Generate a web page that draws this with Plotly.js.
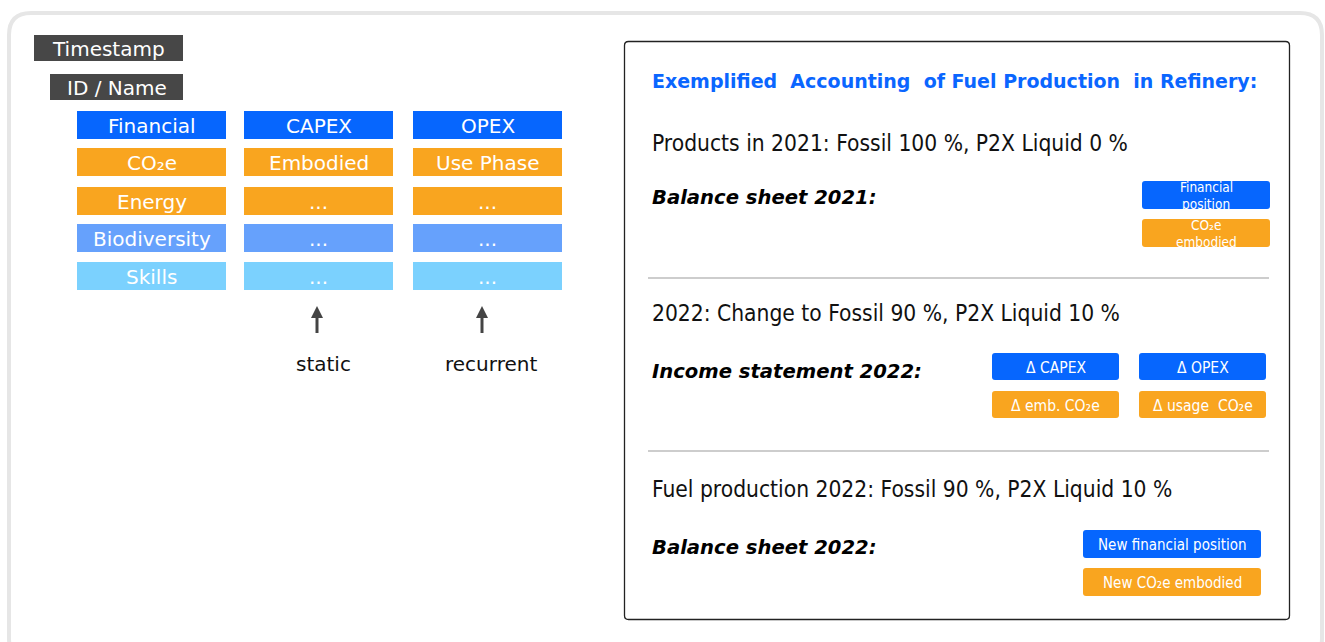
<!DOCTYPE html>
<html><head><meta charset="utf-8">
<script src="https://cdn.plot.ly/plotly-3.0.1.min.js"></script>
<style>html,body{margin:0;padding:0;background:#fff;overflow:hidden}#c{width:1325px;height:642px}</style>
</head><body><div id="c"></div>
<script>
// ---- content ----
const headerLabels = ["Timestamp", "ID / Name"];
const dimensionLabels = ["Financial", "CO₂e", "Energy", "Biodiversity", "Skills"];
const staticLabels = ["CAPEX", "Embodied", "...", "...", "..."];
const recurrentLabels = ["OPEX", "Use Phase", "...", "...", "..."];
const arrowLabels = ["static", "recurrent"];
const panelTitle = "Exemplified  Accounting  of Fuel Production  in Refinery:";
const sectionTexts = ["Products in 2021: Fossil 100 %, P2X Liquid 0 %",
                      "2022: Change to Fossil 90 %, P2X Liquid 10 %",
                      "Fuel production 2022: Fossil 90 %, P2X Liquid 10 %"];
const statementLabels = ["Balance sheet 2021:", "Income statement 2022:", "Balance sheet 2022:"];
const section1Items = [["Financial", "position"], ["CO₂e", "embodied"]];
const section2Items = ["Δ CAPEX", "Δ OPEX", "Δ emb. CO₂e", "Δ usage  CO₂e"];
const section3Items = ["New financial position", "New CO₂e embodied"];

// ---- style ----
const BLUE = "#0666FE", ORANGE = "#F9A51F", LBLUE = "#66A1FC", SKY = "#7BD1FE", DARK = "#474747";
const rowColors = [BLUE, ORANGE, ORANGE, LBLUE, SKY];
const F_LEFT = "DejaVu Sans, Verdana, sans-serif";
const F_COND = "DejaVu Sans Condensed, DejaVu Sans, sans-serif";

// ---- geometry (pixel layout) ----
const colX = [77, 244, 413], colW = 149;
const rowY = [111, 148, 187, 224, 262], rowH = 28;
const TX = 651;

const shapes = [], ann = [];
function rr(x0, y0, x1, y1, r) {
  return `M${x0+r},${y0} L${x1-r},${y0} Q${x1},${y0} ${x1},${y0+r} L${x1},${y1-r} Q${x1},${y1} ${x1-r},${y1} L${x0+r},${y1} Q${x0},${y1} ${x0},${y1-r} L${x0},${y0+r} Q${x0},${y0} ${x0+r},${y0} Z`;
}
function rect(x0, y0, x1, y1, fill, r) {
  if (r) shapes.push({type: "path", xref: "x", yref: "y", path: rr(x0, y0, x1, y1, r), fillcolor: fill, line: {width: 0}, layer: "below"});
  else shapes.push({type: "rect", xref: "x", yref: "y", x0, y0, x1, y1, fillcolor: fill, line: {width: 0}, layer: "below"});
}
function text(t, x, y, size, opts) {
  opts = opts || {};
  ann.push({text: t, x, y, xref: "x", yref: "y", showarrow: false,
    xanchor: opts.xanchor || "center", yanchor: "middle", borderpad: 0,
    font: {family: opts.family || F_LEFT, size, color: opts.color || "#fff", weight: opts.weight || "normal", style: opts.style || "normal"}});
}
function box(t, x0, y0, x1, y1, fill, size, family, r) {
  rect(x0, y0, x1, y1, fill, r);
  const cy = (y0 + y1) / 2;
  if (Array.isArray(t)) {
    text(t[0], (x0 + x1) / 2, cy - 8.5, size, {family});
    text(t[1], (x0 + x1) / 2, cy + 9, size, {family});
  } else {
    text(t, (x0 + x1) / 2, cy + 1, size, {family});
  }
}

// outer frame
shapes.push({type: "path", xref: "x", yref: "y", path: rr(9, 13, 1322, 660, 22), line: {color: "#E6E6E6", width: 4}, fillcolor: "rgba(0,0,0,0)"});

// left header boxes
box(headerLabels[0], 34, 35, 183, 61, DARK, 20, F_LEFT);
box(headerLabels[1], 50, 74, 183, 100, DARK, 20, F_LEFT);

// grid
const cols = [dimensionLabels, staticLabels, recurrentLabels];
cols.forEach((labels, c) => {
  labels.forEach((lab, r) => {
    box(lab, colX[c], rowY[r], colX[c] + colW, rowY[r] + rowH, rowColors[r], 20, F_LEFT);
  });
});

// arrows
[[317, 323], [482, 491]].forEach((p, i) => {
  shapes.push({type: "line", xref: "x", yref: "y", x0: p[0], x1: p[0], y0: 333, y1: 316, line: {color: "#444", width: 3}});
  shapes.push({type: "path", xref: "x", yref: "y", path: `M${p[0]-6},${318} L${p[0]},${306} L${p[0]+6},${318} Z`, fillcolor: "#444", line: {width: 0}});
  text(arrowLabels[i], p[1], 364, 20, {color: "#111"});
});

// right panel
shapes.push({type: "path", xref: "x", yref: "y", path: rr(624.5, 41.5, 1289.5, 619.5, 4), line: {color: "#222", width: 1.3}, fillcolor: "rgba(0,0,0,0)"});
text(panelTitle, TX, 81, 19, {xanchor: "left", color: "#0A66FF", weight: "bold", family: F_LEFT});
const secY = [143, 313, 489], stY = [197, 371, 547];
sectionTexts.forEach((t, i) => text(t, TX, secY[i], 22.6, {xanchor: "left", color: "#111", family: F_COND}));
statementLabels.forEach((t, i) => text(t, TX, stY[i], 19.6, {xanchor: "left", color: "#000", weight: "bold", style: "italic", family: F_LEFT}));
[278, 451].forEach(y => shapes.push({type: "line", xref: "x", yref: "y", x0: 648, x1: 1269, y0: y, y1: y, line: {color: "#BDBDBD", width: 1.5}}));

// section 1
box(section1Items[0], 1142, 181, 1270, 209, BLUE, 13.5, F_COND, 3);
box(section1Items[1], 1142, 219, 1270, 247, ORANGE, 13.5, F_COND, 3);
// section 2
box(section2Items[0], 992, 353, 1119, 380, BLUE, 15.5, F_COND, 3);
box(section2Items[1], 1139, 353, 1266, 380, BLUE, 15.5, F_COND, 3);
box(section2Items[2], 992, 391, 1119, 418, ORANGE, 15.5, F_COND, 3);
box(section2Items[3], 1139, 391, 1266, 418, ORANGE, 15.5, F_COND, 3);
// section 3
box(section3Items[0], 1083, 530, 1261, 558, BLUE, 15, F_COND, 3);
box(section3Items[1], 1083, 568, 1261, 596, ORANGE, 15, F_COND, 3);

const layout = {
  width: 1325, height: 642, margin: {l: 0, r: 0, t: 0, b: 0},
  paper_bgcolor: "#fff", plot_bgcolor: "#fff", showlegend: false,
  xaxis: {range: [0, 1325], visible: false, fixedrange: true},
  yaxis: {range: [642, 0], visible: false, fixedrange: true},
  shapes, annotations: ann
};
Plotly.newPlot("c", [], layout, {displayModeBar: false, staticPlot: true});
</script></body></html>
